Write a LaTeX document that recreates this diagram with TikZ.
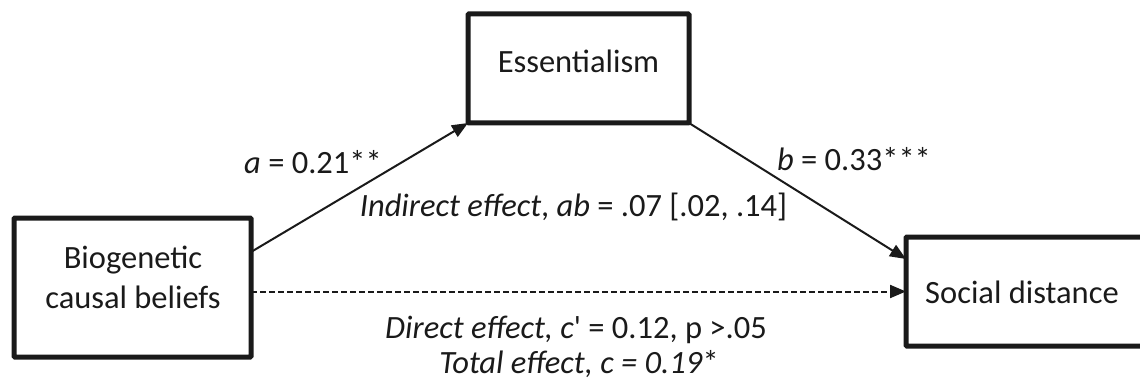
\documentclass[tikz,border=0pt]{standalone}
\usepackage{fontspec}
\setmainfont{Carlito}
\usepackage{tikz}
\usetikzlibrary{arrows.meta,positioning,calc}
\definecolor{ink}{HTML}{1A1A1A}

\begin{document}
\begin{tikzpicture}[x=1pt, y=-1pt,
  every node/.style={font=\fontsize{32.5}{40}\selectfont, text=ink},
  box/.style={draw=ink, line width=5pt, rounded corners=1pt, outer sep=0pt, inner sep=0pt},
  lbl/.style={anchor=base, inner sep=0pt},
  effect/.style={draw=ink, line width=2pt, -{Triangle[length=16pt, width=13pt]}}]

  \useasboundingbox (0,0) rectangle (1140,385);

  % === Variables ===
  \node[box, minimum width=221pt, minimum height=109pt] (ess) at (578.5,68.5) {};
  \node[box, minimum width=237pt, minimum height=139pt] (bio) at (132.5,287.5) {};
  \node[box, minimum width=239pt, minimum height=109pt] (soc) at (1025.5,291.5) {};

  \node[lbl] (esstext) at (578.5,73) {Essentialism};
  \node[align=center, inner sep=0pt] (biotext) at (133,277) {Biogenetic\\causal beliefs};
  \node[lbl] (soctext) at (1022,303) {Social distance};

  % === Paths ===
  \draw[effect] ([yshift=35.5pt]bio.east) -- (ess.south west);
  \draw[effect] (ess.south east) -- ([yshift=32.5pt]soc.west);
  \draw[effect, dash pattern=on 6pt off 3pt] (soc.west -| bio.east) -- (soc.west);

  % Coefficients
  \node[lbl] (alabel) at (313,173) {\textit{a} = 0.21**};
  \node[lbl] (blabel) at (854,170) {\textit{b} = 0.33***};
  \node[lbl] (indirect) at (573.5,216)
    {\textit{Indirect effect}, \textit{ab} = .07 [.02, .14]};
  \node[lbl] (direct) at (576,338)
    {\textit{Direct effect, c}\textquotesingle{} = 0.12, p >.05};
  \node[lbl] (total) at (579,373) {\textit{Total effect, c = 0.19}*};

\end{tikzpicture}
\end{document}
